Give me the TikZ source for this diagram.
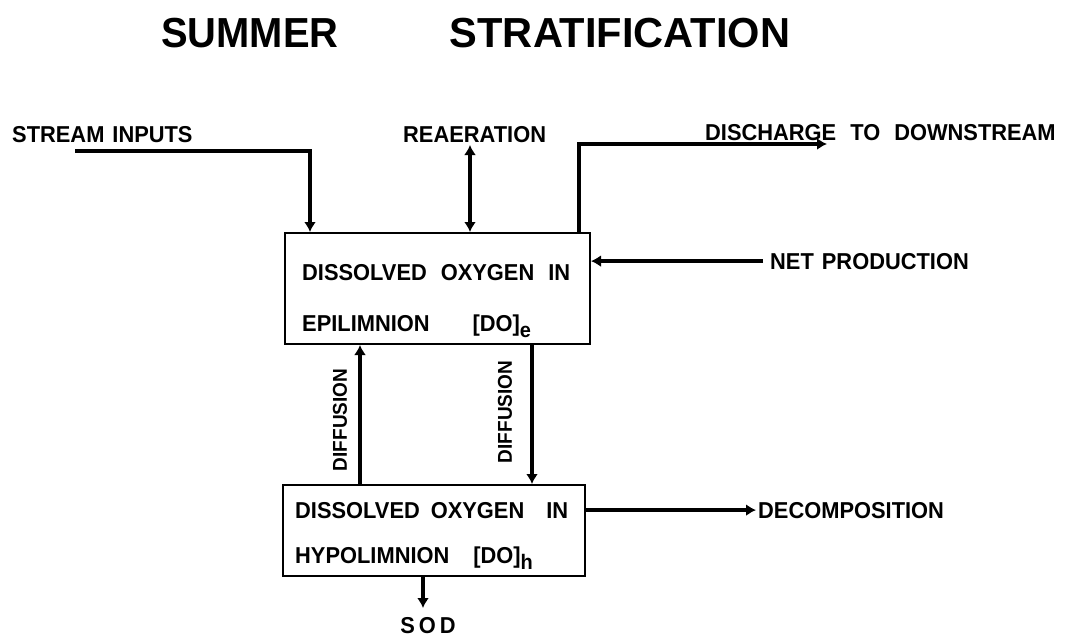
\documentclass[tikz,border=0pt]{standalone}
\usepackage{fontspec}
\setmainfont{Liberation Sans}
\newfontfamily\letfont[FakeStretch=0.95]{Liberation Sans Bold}
\newfontfamily\ttlfont[FakeStretch=0.95]{Liberation Sans Bold}
\newfontfamily\ttlfontb[FakeStretch=0.99]{Liberation Sans Bold}
\usetikzlibrary{arrows.meta}
\newcommand{\wg}[1]{\hspace{#1pt}}
\newcommand{\subl}[1]{\raisebox{-6pt}{\fontsize{21}{21}\selectfont #1}}
\begin{document}
\begin{tikzpicture}[x=1pt,y=-1pt,
  lbl/.style={font=\letfont\fontsize{23}{23}\selectfont, inner sep=0pt},
  blbl/.style={font=\letfont\fontsize{23}{23}\selectfont, inner sep=0pt},
  dlbl/.style={font=\letfont\fontsize{20}{20}\selectfont, inner sep=0pt, rotate=90},
  ttl/.style={font=\ttlfont\fontsize{42}{42}\selectfont, inner sep=0pt},
  ttlb/.style={font=\ttlfontb\fontsize{42}{42}\selectfont, inner sep=0pt},
  boxn/.style={draw, line width=2pt, inner sep=0pt},
  flow/.style={line width=3.5pt, -{Latex[length=10pt,width=12pt]}},
  dflow/.style={line width=3.5pt, {Latex[length=10pt,width=12pt]}-{Latex[length=10pt,width=12pt]}},
]
\useasboundingbox (0,0) rectangle (1071,637);
% title
\node[ttl, anchor=base] (t1) at (250,47) {SUMMER};
\node[ttlb, anchor=base] (t2) at (620,47) {STRATIFICATION};
% boxes
\node[boxn, minimum width=305pt, minimum height=111pt] (b1) at (437.5,288.5) {};
\node[boxn, minimum width=302pt, minimum height=91pt] (b2) at (434,530.5) {};
\node[blbl, anchor=base west] (b1a) at (302,280) {DISSOLVED\wg{14}OXYGEN\wg{14}IN};
\node[blbl, anchor=base west] (b1b) at (302,331) {EPILIMNION\wg{43}[DO]\subl{e}};
\node[blbl, anchor=base west] (b2a) at (295,518) {DISSOLVED\wg{11}OXYGEN\wg{22}IN};
\node[blbl, anchor=base west] (b2b) at (295,563) {HYPOLIMNION\wg{24}[DO]\subl{h}};
% outer labels
\node[lbl, anchor=base west] (si) at (12,142) {STREAM\wg{8}INPUTS};
\node[lbl, anchor=base west] (rea) at (403,142) {REAERATION};
\node[lbl, anchor=base west] (dis) at (705,140) {DISCHARGE\wg{14}TO\wg{14}DOWNSTREAM};
\node[lbl, anchor=base west] (np) at (770,269) {NET\wg{8}PRODUCTION};
\node[lbl, anchor=base west] (dc) at (758,518) {DECOMPOSITION};
\node[lbl, anchor=base] (sod) at (428,633) {S\wg{4}O\wg{4}D};
\node[dlbl] (df1) at (340,420) {DIFFUSION};
\node[dlbl] (df2) at (505,412) {DIFFUSION};
% coordinates
\coordinate (sis) at (75,151);
\coordinate (rex) at (470,145);
\coordinate (dse) at (827,144);
\coordinate (dlx) at (360,0);
\coordinate (drx) at (532,0);
\coordinate (sdx) at (423,608);
% connectors
\draw[flow] (sis) -| ([xshift=26pt]b1.north west);
\draw[dflow] (rex) -- (rex |- b1.north);
\draw[flow] ([xshift=-12pt]b1.north east) |- (dse);
\draw[flow] ([xshift=-7pt]np.west) -- (np.west -| b1.east);
\draw[flow] (dlx |- b2.north) -- (dlx |- b1.south);
\draw[flow] (drx |- b1.south) -- (drx |- b2.north);
\draw[flow] (b2.east |- dc.west) -- ([xshift=-2pt]dc.west);
\draw[flow] (sdx |- b2.south) -- (sdx);
\end{tikzpicture}
\end{document}
